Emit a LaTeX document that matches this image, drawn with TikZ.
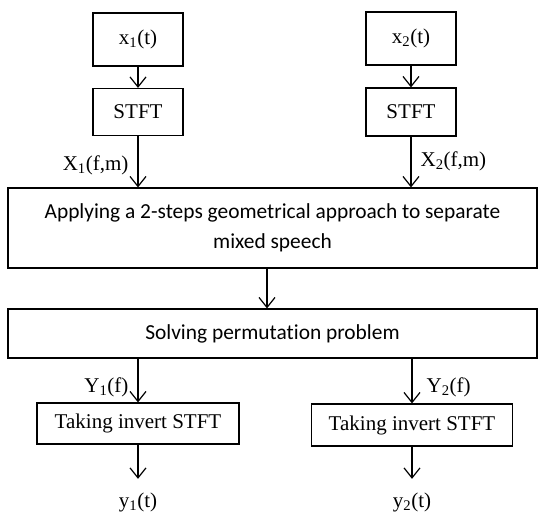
\documentclass[tikz,border=0pt]{standalone}
\usepackage{fontspec}
\setmainfont{Liberation Serif}
\newfontfamily\calibri[Ligatures=NoCommon]{Carlito}
\usetikzlibrary{arrows.meta}
\begin{document}
\begin{tikzpicture}[x=1pt,y=-1pt, line width=1.2pt,
  >={Straight Barb[length=10pt,width=16pt,line width=1.2pt]},
  blk/.style={draw, rectangle, inner sep=0pt, font=\fontsize{21}{24}\selectfont},
  wide/.style={draw, rectangle, inner sep=0pt, align=center, minimum width=529pt, font=\calibri\fontsize{21.4}{30}\selectfont},
  lbl/.style={inner sep=0pt, font=\fontsize{21}{24}\selectfont}]
\useasboundingbox (0,0) rectangle (544,515);
\node[blk, minimum width=90pt, minimum height=53pt] (x1) at (138,39.5){x\textsubscript{1}(t)};
\node[blk, minimum width=90pt, minimum height=47pt] (stft1) at (138,112){STFT};
\node[blk, minimum width=90pt, minimum height=53pt] (x2) at (411,38.5){x\textsubscript{2}(t)};
\node[blk, minimum width=90pt, minimum height=48pt] (stft2) at (411,112){STFT};
\draw[->] (x1) -- (stft1);
\draw[->] (x2) -- (stft2);
\node[wide, minimum height=80pt] (sep) at (272.5,228){Applying a 2-steps geometrical approach to separate\\mixed speech};
\node[wide, minimum height=49pt] (perm) at (272.5,333.5){Solving permutation problem};
\draw[->] (stft1) -- (stft1 |- sep.north);
\draw[->] (stft2) -- (stft2 |- sep.north);
\node[lbl, anchor=east] (X1) at (129,165){X\textsubscript{1}(f,m)};
\node[lbl, anchor=west] (X2) at (420,161){X\textsubscript{2}(f,m)};
\draw[->] ([xshift=-5.5pt]sep.south) -- ([xshift=-5.5pt]sep.south |- perm.north);
\node[blk, minimum width=202pt, minimum height=41pt] (inv1) at (138,423.5){Taking invert STFT};
\node[blk, minimum width=201pt, minimum height=42pt] (inv2) at (412,425){Taking invert STFT};
\draw[->] (inv1.north |- perm.south) -- (inv1.north);
\draw[->] (inv2.north |- perm.south) -- (inv2.north);
\node[lbl, anchor=east] (Y1) at (129,387){Y\textsubscript{1}(f)};
\node[lbl, anchor=west] (Y2) at (426,387){Y\textsubscript{2}(f)};
\node[lbl] (y1) at (138,502){y\textsubscript{1}(t)};
\node[lbl] (y2) at (412,502){y\textsubscript{2}(t)};
\draw[->, shorten >=13pt] (inv1) -- (y1);
\draw[->, shorten >=13pt] (inv2) -- (y2);
\end{tikzpicture}
\end{document}
